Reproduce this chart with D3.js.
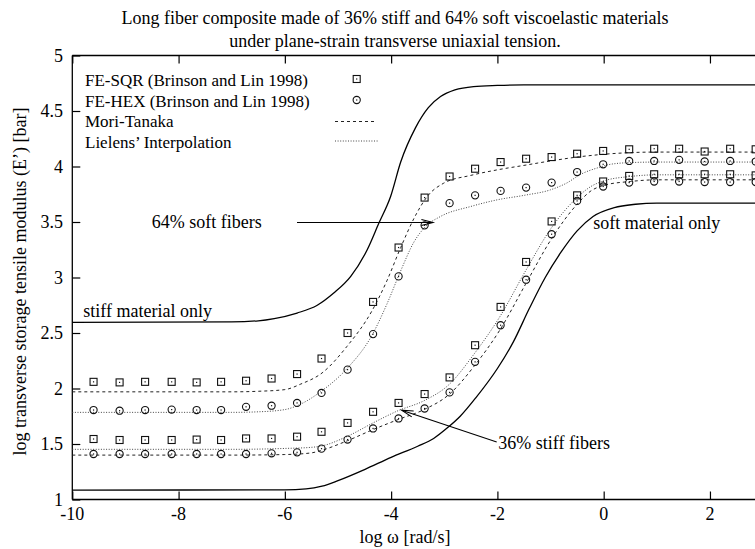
<!DOCTYPE html>
<html>
<head>
<meta charset="utf-8">
<script src="https://cdn.jsdelivr.net/npm/d3@7"></script>
<style>
  html, body { margin: 0; padding: 0; background: #fff; }
  svg { display: block; }
  text { font-family: "Liberation Serif", "Times New Roman", Times, serif; fill: #000; }
</style>
</head>
<body>
<svg id="chart" width="755" height="549"></svg>
<script>
// Frequencies (log ω) at which the finite-element results are sampled
const feX = [-9.60, -9.11, -8.63, -8.13, -7.66, -7.20, -6.73, -6.25, -5.77, -5.31,
             -4.82, -4.34, -3.86, -3.37, -2.90, -2.42, -1.94, -1.46, -0.98, -0.50,
             -0.01, 0.48, 0.95, 1.42, 1.90, 2.38, 2.86];

// FE results, 64% soft fibers
const sqr64 = [2.06, 2.055, 2.06, 2.06, 2.055, 2.06, 2.07, 2.09, 2.13, 2.27,
               2.50, 2.78, 3.27, 3.72, 3.91, 3.98, 4.04, 4.07, 4.085, 4.115,
               4.14, 4.155, 4.16, 4.16, 4.135, 4.16, 4.155];
const hex64 = [1.806, 1.80, 1.806, 1.81, 1.806, 1.806, 1.835, 1.845, 1.87, 1.96,
               2.17, 2.49, 3.01, 3.47, 3.67, 3.74, 3.78, 3.81, 3.855, 3.95,
               4.02, 4.05, 4.05, 4.06, 4.045, 4.05, 4.045];
// FE results, 36% stiff fibers
const sqr36 = [1.545, 1.536, 1.536, 1.536, 1.54, 1.536, 1.55, 1.55, 1.566, 1.61,
               1.69, 1.79, 1.87, 1.95, 2.10, 2.39, 2.735, 3.14, 3.505, 3.74,
               3.865, 3.915, 3.93, 3.93, 3.93, 3.93, 3.92];
const hex36 = [1.41, 1.41, 1.41, 1.41, 1.41, 1.41, 1.41, 1.416, 1.425, 1.458,
               1.54, 1.64, 1.73, 1.82, 1.965, 2.24, 2.57, 2.98, 3.39, 3.69,
               3.82, 3.855, 3.865, 3.865, 3.86, 3.86, 3.86];

// Mori-Tanaka estimates
const mt64X = [-10, -7, -6.5, -6, -5.7, -5.3, -4.83, -4.36, -4.08, -3.82, -3.54, -3.32, -3.01,
               -2.5, -2.0, -1.5, -1.0, -0.5, 0, 0.5, 1, 3];
const mt64Y = [1.97, 1.97, 1.975, 1.99, 2.04, 2.14, 2.38, 2.70, 2.97, 3.27, 3.56, 3.73, 3.85,
               3.92, 3.97, 4.01, 4.05, 4.085, 4.11, 4.125, 4.13, 4.13];
const mt36X = [-10, -7, -6, -5.5, -5.33, -4.82, -4.34, -3.87, -3.38, -2.9, -2.44, -1.95,
               -1.47, -0.98, -0.5, -0.24, 0, 0.5, 1, 3];
const mt36Y = [1.40, 1.40, 1.405, 1.42, 1.44, 1.53, 1.63, 1.72, 1.81, 1.95, 2.20, 2.53,
               2.94, 3.35, 3.66, 3.78, 3.83, 3.865, 3.88, 3.88];

// Lielens' interpolation
const li64X = [-10, -7, -6.5, -6, -5.7, -5.33, -4.83, -4.36, -4.08, -3.82, -3.57, -3.35, -3.07,
               -2.5, -2.0, -1.5, -1.0, -0.7, -0.43, -0.1, 0.13, 0.5, 1, 3];
const li64Y = [1.785, 1.785, 1.79, 1.81, 1.86, 1.97, 2.18, 2.48, 2.76, 3.06, 3.32, 3.46, 3.55,
               3.64, 3.70, 3.74, 3.79, 3.85, 3.93, 3.99, 4.02, 4.035, 4.04, 4.04];
const li36X = [-10, -7, -6, -5.5, -5.33, -4.82, -4.34, -3.87, -3.38, -2.9, -2.44, -1.95,
               -1.47, -0.98, -0.5, -0.24, 0, 0.5, 1, 3];
const li36Y = [1.452, 1.452, 1.46, 1.47, 1.48, 1.57, 1.69, 1.80, 1.89, 2.04, 2.31, 2.65,
               3.06, 3.45, 3.72, 3.82, 3.87, 3.91, 3.925, 3.925];

// Pure constituents
const stiffX = [-10, -7, -6.5, -6.2, -5.77, -5.39, -5.08, -4.76, -4.45, -4.23, -4.01, -3.82,
                -3.54, -3.3, -3.07, -2.8, -2.45, -2, -1.5, 3];
const stiffY = [2.596, 2.60, 2.61, 2.63, 2.68, 2.75, 2.86, 3.01, 3.25, 3.49, 3.73, 4.04,
                4.35, 4.53, 4.63, 4.69, 4.72, 4.73, 4.735, 4.735];
const softX = [-10, -6, -5.6, -5.3, -5.0, -4.5, -4.0, -3.5, -3.2, -2.93, -2.7, -2.4, -2.0,
               -1.7, -1.4, -1.1, -0.8, -0.5, -0.2, 0.2, 0.6, 1.0, 3];
const softY = [1.085, 1.087, 1.095, 1.12, 1.17, 1.27, 1.38, 1.48, 1.55, 1.65, 1.75, 1.92, 2.18,
               2.42, 2.72, 3.0, 3.23, 3.42, 3.55, 3.63, 3.66, 3.67, 3.67];

// Axis ticks and texts
const xTicks = [-10, -8, -6, -4, -2, 0, 2];
const yTicks = [1, 1.5, 2, 2.5, 3, 3.5, 4, 4.5, 5];
const titleLines = ["Long fiber composite made of 36% stiff and 64% soft viscoelastic materials",
                    "under plane-strain transverse uniaxial tension."];
const legendLabels = ["FE-SQR (Brinson and Lin 1998)", "FE-HEX (Brinson and Lin 1998)",
                      "Mori-Tanaka", "Lielens\u2019 Interpolation"];

const svg = d3.select("#chart");
const FS = 18;
const LEG_FS = 17;

const x = d3.scaleLinear().domain([-10, 3]).range([72.3, 763.1]);
const y = d3.scaleLinear().domain([1, 5]).range([499.5, 55.5]);

// Frame (left, bottom, top)
const frame = svg.append("g").attr("stroke", "#000").attr("stroke-width", 1.3).attr("fill", "none");
frame.append("line").attr("x1", x(-10)).attr("x2", x(-10)).attr("y1", y(1)).attr("y2", y(5));
frame.append("line").attr("x1", x(-10)).attr("x2", x(3)).attr("y1", y(1)).attr("y2", y(1));
frame.append("line").attr("x1", x(-10)).attr("x2", x(3)).attr("y1", y(5)).attr("y2", y(5));

// Inward ticks via d3 axes
const TL = 8;
const xb = svg.append("g").attr("transform", `translate(0,${y(1)})`)
  .call(d3.axisTop(x).tickValues(xTicks).tickSize(TL).tickFormat(""));
const xt = svg.append("g").attr("transform", `translate(0,${y(5)})`)
  .call(d3.axisBottom(x).tickValues(xTicks).tickSize(TL).tickFormat(""));
const yl = svg.append("g").attr("transform", `translate(${x(-10)},0)`)
  .call(d3.axisRight(y).tickValues(yTicks).tickSize(TL).tickFormat(""));
[xb, xt, yl].forEach(g => {
  g.select(".domain").remove();
  g.selectAll(".tick line").attr("stroke", "#000").attr("stroke-width", 1.2);
});

// Tick labels
svg.append("g").selectAll("text").data(xTicks).join("text")
  .attr("x", d => x(d)).attr("y", 520)
  .attr("text-anchor", "middle").attr("font-size", FS)
  .text(d => d);
svg.append("g").selectAll("text").data(yTicks).join("text")
  .attr("x", 63).attr("y", d => y(d) + 6)
  .attr("text-anchor", "end").attr("font-size", FS)
  .text(d => d);

// Title and axis labels
svg.append("g").selectAll("text").data(titleLines).join("text")
  .attr("x", 395).attr("y", (d, i) => 24 + i * 23)
  .attr("text-anchor", "middle").attr("font-size", FS)
  .text(d => d);
svg.append("text").attr("x", 405).attr("y", 543)
  .attr("text-anchor", "middle").attr("font-size", FS)
  .text("log \u03c9 [rad/s]");
svg.append("text").attr("transform", "translate(26,281.5) rotate(-90)")
  .attr("text-anchor", "middle").attr("font-size", FS)
  .text("log transverse storage tensile modulus (E\u2019) [bar]");

// Curves
const line = d3.line().x(d => x(d[0])).y(d => y(d[1])).curve(d3.curveMonotoneX);
const pairs = (xs, ys) => xs.map((v, i) => [v, ys[i]]);
const plot = svg.append("g");

function drawCurve(xs, ys, style) {
  plot.append("path").datum(pairs(xs, ys))
    .attr("d", line).attr("fill", "none")
    .attr("stroke", style.color).attr("stroke-width", style.width)
    .attr("stroke-dasharray", style.dash || null);
}
const solid = { color: "#000", width: 1.3 };
const dashed = { color: "#222", width: 1, dash: "3,3" };
const dotted = { color: "#444", width: 1, dash: "1,1.6" };

drawCurve(stiffX, stiffY, solid);
drawCurve(softX, softY, solid);
drawCurve(mt64X, mt64Y, dashed);
drawCurve(mt36X, mt36Y, dashed);
drawCurve(li64X, li64Y, dotted);
drawCurve(li36X, li36Y, dotted);

// FE markers
function squareMark(g, cx, cy) {
  g.append("rect").attr("x", cx - 3.5).attr("y", cy - 3.5).attr("width", 7).attr("height", 7)
    .attr("fill", "none").attr("stroke", "#111").attr("stroke-width", 1.1);
  g.append("rect").attr("x", cx - 0.6).attr("y", cy - 0.6).attr("width", 1.2).attr("height", 1.2)
    .attr("fill", "#111");
}
function circleMark(g, cx, cy) {
  g.append("circle").attr("cx", cx).attr("cy", cy).attr("r", 3.6)
    .attr("fill", "none").attr("stroke", "#111").attr("stroke-width", 1.1);
  g.append("rect").attr("x", cx - 0.6).attr("y", cy - 0.6).attr("width", 1.2).attr("height", 1.2)
    .attr("fill", "#111");
}
const marks = svg.append("g");
feX.forEach((v, i) => {
  squareMark(marks, x(v), y(sqr64[i]));
  circleMark(marks, x(v), y(hex64[i]));
  squareMark(marks, x(v), y(sqr36[i]));
  circleMark(marks, x(v), y(hex36[i]));
});

// Legend
const legendRows = [85.5, 106.5, 127, 148];
svg.append("g").selectAll("text").data(legendLabels).join("text")
  .attr("x", 85).attr("y", (d, i) => legendRows[i])
  .attr("font-size", LEG_FS).text(d => d);
squareMark(svg, 356.7, legendRows[0] - 6.5);
circleMark(svg, 356.7, legendRows[1] - 6.5);
svg.append("line").attr("x1", 335).attr("x2", 376).attr("y1", legendRows[2] - 5.5).attr("y2", legendRows[2] - 5.5)
  .attr("stroke", dashed.color).attr("stroke-width", dashed.width).attr("stroke-dasharray", dashed.dash);
svg.append("line").attr("x1", 335).attr("x2", 378).attr("y1", legendRows[3] - 7).attr("y2", legendRows[3] - 7)
  .attr("stroke", dotted.color).attr("stroke-width", dotted.width).attr("stroke-dasharray", dotted.dash);

// Annotations
const notes = [
  { t: "stiff material only", x: 83.3, y: 317 },
  { t: "soft material only", x: 593.3, y: 228.5 },
  { t: "64% soft fibers", x: 151.7, y: 228 },
  { t: "36% stiff fibers", x: 498.3, y: 449 }
];
svg.append("g").selectAll("text").data(notes).join("text")
  .attr("x", d => d.x).attr("y", d => d.y).attr("font-size", FS).text(d => d.t);

function arrow(x1, y1, x2, y2) {
  const g = svg.append("g").attr("stroke", "#000").attr("stroke-width", 1.1).attr("fill", "none");
  g.append("line").attr("x1", x1).attr("y1", y1).attr("x2", x2).attr("y2", y2);
  const a = Math.atan2(y2 - y1, x2 - x1), L = 12, h = 0.26;
  const p1 = [x2 - L * Math.cos(a - h), y2 - L * Math.sin(a - h)];
  const p2 = [x2 - L * Math.cos(a + h), y2 - L * Math.sin(a + h)];
  g.append("path").attr("d", `M${p1}L${x2},${y2}L${p2}`);
}
arrow(297, 222.5, 433, 222.5);
arrow(496.7, 442, 401.7, 410.3);
</script>
</body>
</html>
